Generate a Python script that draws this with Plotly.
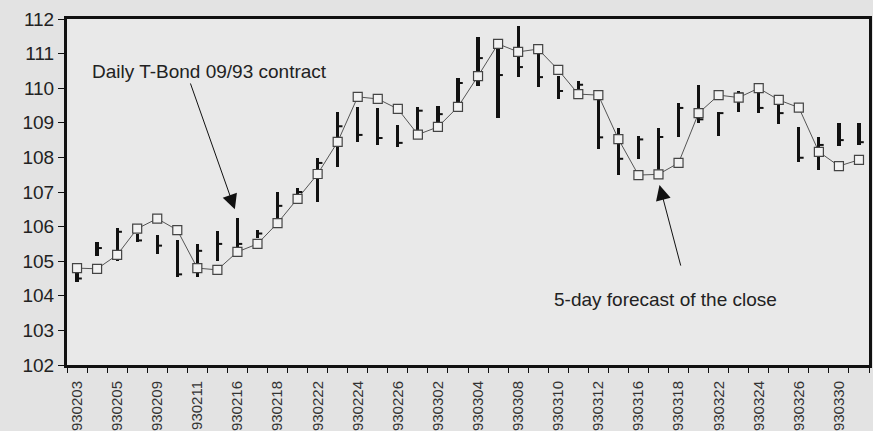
import plotly.graph_objects as go

# Trading days Feb-Mar 1993 (T-Bond 09/93 contract)
dates = ["930203", "930204", "930205", "930208", "930209", "930210", "930211", "930212",
         "930216", "930217", "930218", "930219", "930222", "930223", "930224", "930225",
         "930226", "930301", "930302", "930303", "930304", "930305", "930308", "930309",
         "930310", "930311", "930312", "930315", "930316", "930317", "930318", "930319",
         "930322", "930323", "930324", "930325", "930326", "930329", "930330", "930331"]

high = [104.70, 105.55, 105.95, 105.80, 105.75, 105.60, 105.50, 105.88, 106.25, 105.90,
        107.00, 107.12, 107.98, 109.31, 109.46, 109.43, 108.94, 109.46, 109.50, 110.30,
        111.48, 111.17, 111.81, 111.02, 110.36, 110.20, 109.68, 108.85, 108.63, 108.86,
        109.57, 110.09, 109.31, 109.92, 109.89, 109.66, 108.88, 108.58, 108.99, 108.99]
low = [104.40, 105.15, 105.02, 105.55, 105.22, 104.55, 104.55, 105.00, 105.40, 105.66,
       106.05, 106.86, 106.71, 107.72, 108.45, 108.36, 108.30, 108.72, 109.01, 109.55,
       110.06, 109.14, 110.31, 110.03, 109.70, 109.96, 108.23, 107.49, 107.94, 107.52,
       108.59, 108.99, 108.63, 109.31, 109.28, 108.97, 107.87, 107.64, 108.32, 108.36]
close = [104.50, 105.38, 105.85, 105.60, 105.45, 104.62, 105.30, 105.50, 105.50, 105.80,
         106.60, 107.00, 107.84, 108.90, 108.65, 108.56, 108.42, 109.35, 109.25, 110.15,
         110.87, 110.38, 110.61, 110.32, 109.92, 110.10, 108.58, 107.96, 108.52, 108.59,
         109.43, 109.10, 109.28, 109.85, 109.43, 109.28, 107.99, 108.36, 108.50, 108.44]
forecast = [104.80, 104.78, 105.18, 105.94, 106.23, 105.90, 104.80, 104.75, 105.27, 105.50,
            106.10, 106.80, 107.52, 108.45, 109.75, 109.69, 109.40, 108.66, 108.88, 109.46,
            110.35, 111.28, 111.05, 111.13, 110.53, 109.83, 109.80, 108.53, 107.49, 107.51,
            107.84, 109.28, 109.80, 109.73, 110.00, 109.66, 109.44, 108.16, 107.75, 107.93]

y_ticks = [102, 103, 104, 105, 106, 107, 108, 109, 110, 111, 112]

idx = list(range(len(dates)))
label_idx = idx[::2]
label_text = [dates[i] for i in label_idx]

fig = go.Figure()

# High-low bars
fig.add_trace(go.Bar(
    x=idx, base=low, y=[h - l for h, l in zip(high, low)],
    width=0.16, marker=dict(color="#111111", line=dict(width=0)),
    showlegend=False, hoverinfo="skip"))

# Close ticks (right side)
cx, cy = [], []
for i, c in zip(idx, close):
    cx += [i, i + 0.24, None]
    cy += [c, c, None]
fig.add_trace(go.Scatter(x=cx, y=cy, mode="lines",
                         line=dict(color="#111111", width=2),
                         showlegend=False, hoverinfo="skip"))

# 5-day forecast line
fig.add_trace(go.Scatter(
    x=idx, y=forecast, mode="lines+markers",
    line=dict(color="#555555", width=1),
    marker=dict(symbol="square", size=9, color="#f2f2f2",
                line=dict(color="#444444", width=1.2)),
    showlegend=False))

font_main = "Liberation Sans, Arial, Helvetica, sans-serif"

fig.add_annotation(x=0.65, y=110.47, xref="x", yref="y",
                   text="Daily T-Bond 09/93 contract", showarrow=False,
                   xanchor="left", yanchor="middle",
                   font=dict(family=font_main, size=19, color="#222222"))
fig.add_annotation(x=7.87, y=106.5, ax=5.63, ay=110.18, xref="x", yref="y",
                   axref="x", ayref="y", text="", showarrow=True,
                   arrowhead=2, arrowsize=3, arrowwidth=1, arrowcolor="#111111")

fig.add_annotation(x=23.7, y=103.88, xref="x", yref="y",
                   text="5-day forecast of the close", showarrow=False,
                   xanchor="left", yanchor="middle",
                   font=dict(family=font_main, size=19, color="#222222"))
fig.add_annotation(x=29.05, y=107.2, ax=30.13, ay=104.83, xref="x", yref="y",
                   axref="x", ayref="y", text="", showarrow=True,
                   arrowhead=2, arrowsize=3, arrowwidth=1, arrowcolor="#111111")

fig.update_layout(
    width=873, height=431,
    margin=dict(l=67, r=4, t=19, b=66, autoexpand=False),
    paper_bgcolor="#e3e3e3",
    plot_bgcolor="#e9e9e9",
    barmode="overlay",
    bargap=0,
    showlegend=False,
)

fig.update_xaxes(
    range=[-0.5, 39.5], automargin=False,
    tickmode="array", tickvals=label_idx, ticktext=label_text,
    tickangle=-90, ticks="", ticklabelstandoff=7,
    tickfont=dict(family="Liberation Sans Narrow, Arial Narrow, Liberation Sans, sans-serif",
                  size=15, color="#333333"),
    minor=dict(ticks="outside", tick0=-0.5, dtick=1, ticklen=5, tickwidth=1.2, tickcolor="#111111"),
    showgrid=False, zeroline=False,
    showline=True, linewidth=3, linecolor="#111111", mirror=True,
)
fig.update_yaxes(
    range=[102, 112], automargin=False,
    tickmode="array", tickvals=y_ticks,
    ticks="outside", ticklen=6, tickwidth=1.2, tickcolor="#111111",
    tickfont=dict(family=font_main, size=19, color="#222222"),
    showgrid=False, zeroline=False,
    showline=True, linewidth=3, linecolor="#111111", mirror=True,
)

fig.write_html("out.html",
               config={"displayModeBar": False},
               post_script="document.body.style.margin='0';document.body.style.padding='0';"
                           "document.body.style.background='#e3e3e3';")
